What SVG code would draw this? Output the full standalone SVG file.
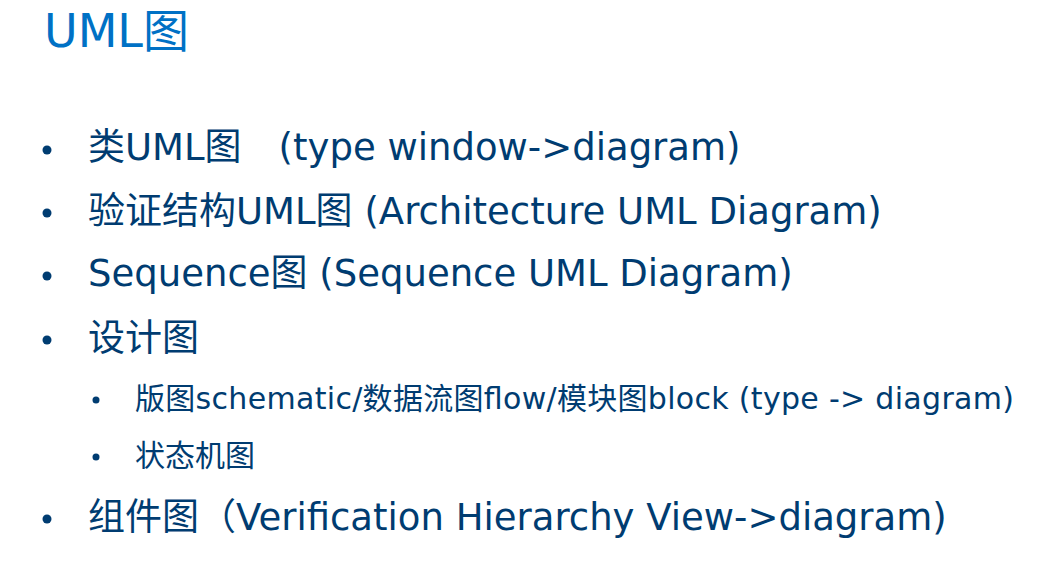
<svg xmlns="http://www.w3.org/2000/svg" width="1061" height="562" viewBox="0 0 1061 562">
<style>
text{font-family:"DejaVu Sans","Noto Sans CJK SC",sans-serif;fill:#003C71}
.t{fill:#0071C5;font-size:46px}
.l1{font-size:37px}
.l2{font-size:30px}
.b{fill:#003C71}
</style>
<rect width="1061" height="562" fill="#ffffff"/>
<g id="title"><text class="t" x="44" y="47">UML图</text></g>
<g id="bullets">
<circle class="b" cx="47" cy="150" r="4.5"/>
<circle class="b" cx="47" cy="213" r="4.5"/>
<circle class="b" cx="47" cy="276" r="4.5"/>
<circle class="b" cx="47" cy="340" r="4.5"/>
<circle class="b" cx="96" cy="400" r="3.5"/>
<circle class="b" cx="96" cy="457" r="3.5"/>
<circle class="b" cx="47" cy="519" r="4.5"/>
</g>
<g id="item1"><text class="l1" x="88" y="160">类UML图　(type window-&gt;diagram)</text></g>
<g id="item2"><text class="l1" x="88" y="224">验证结构UML图 (Architecture UML Diagram)</text></g>
<g id="item3"><text class="l1" x="88" y="286">Sequence图 (Sequence UML Diagram)</text></g>
<g id="item4"><text class="l1" x="88" y="351">设计图</text></g>
<g id="item4a"><text class="l2" x="135" y="409" textLength="879" lengthAdjust="spacing">版图schematic/数据流图flow/模块图block (type -&gt; diagram)</text></g>
<g id="item4b"><text class="l2" x="135" y="466">状态机图</text></g>
<g id="item5"><text class="l1" x="88" y="530">组件图（Verification Hierarchy View-&gt;diagram)</text></g>
</svg>
